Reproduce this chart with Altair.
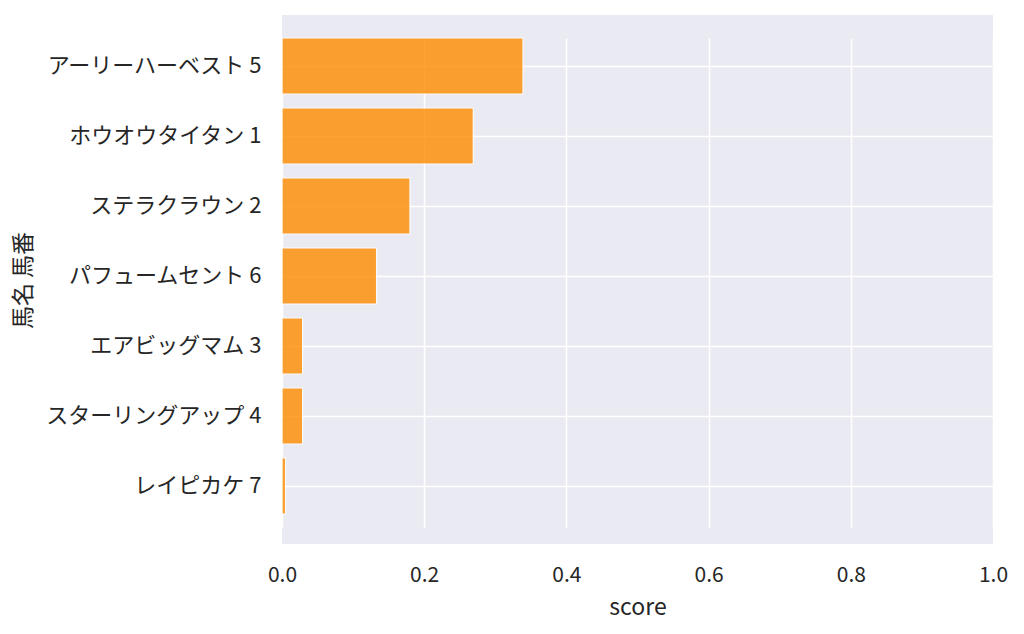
import altair as alt
import pandas as pd

names = ["アーリーハーベスト 5", "ホウオウタイタン 1", "ステラクラウン 2", "パフュームセント 6",
         "エアビッグマム 3", "スターリングアップ 4", "レイピカケ 7"]
scores = [0.339, 0.269, 0.180, 0.133, 0.029, 0.029, 0.005]

df = pd.DataFrame({"name": names, "score": scores})

FONT = "Noto Sans CJK JP"

chart = alt.Chart(df).mark_bar(
    color="#ff8c00", opacity=0.8, stroke="#ffffff", strokeWidth=1.2
).encode(
    x=alt.X("score:Q", title="score",
            scale=alt.Scale(domain=[0, 1], nice=False, zero=True),
            axis=alt.Axis(values=[0, 0.2, 0.4, 0.6, 0.8, 1.0], format=".1f",
                          labelFlush=False, labelPadding=20, titlePadding=11,
                          labelFontSize=21)),
    y=alt.Y("name:N", title="馬名 馬番", sort=names,
            scale=alt.Scale(paddingInner=0.2, paddingOuter=0.1, range=[16, 506]),
            axis=alt.Axis(labelPadding=21, bandPosition=0.5,
                          labelLimit=500, labelFontSize=22,
                          titleX=-247, titleY=265, titleAngle=270,
                          titleAlign="center", titleBaseline="bottom")),
).properties(
    width=711, height=529
).configure_view(
    fill="#EAEAF2", stroke=None
).configure_axis(
    grid=True, gridColor="#ffffff", gridWidth=1.5, domain=False, ticks=False,
    labelFont=FONT, titleFont=FONT, titleFontSize=23,
    labelColor="#262626", titleColor="#262626", titleFontWeight="normal"
).properties(
    padding={"left": 4, "top": 7, "right": 5, "bottom": 5}
)

chart.save("out.html", embed_options={"renderer": "svg", "actions": False})
